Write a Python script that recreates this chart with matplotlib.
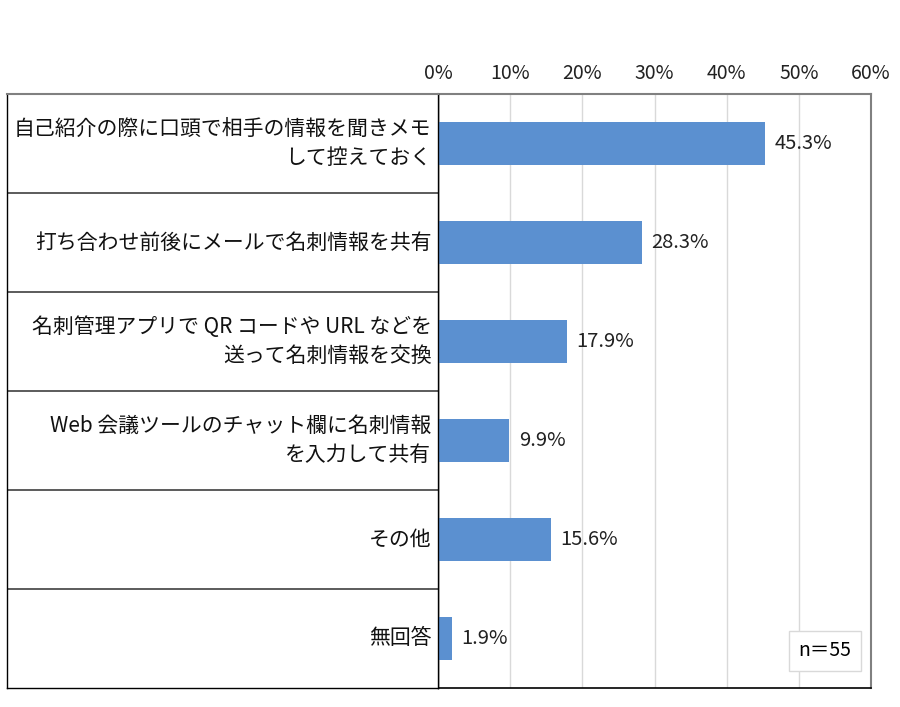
import matplotlib.pyplot as plt
import numpy as np

plt.rcParams['font.family'] = ['Noto Sans CJK JP', 'DejaVu Sans']

labels = [
    "自己紹介の際に口頭で相手の情報を聞きメモ\nして控えておく",
    "打ち合わせ前後にメールで名刺情報を共有",
    "名刺管理アプリで QR コードや URL などを\n送って名刺情報を交換",
    "Web 会議ツールのチャット欄に名刺情報\nを入力して共有",
    "その他",
    "無回答",
]
values = [45.3, 28.3, 17.9, 9.9, 15.6, 1.9]
ticks = [0, 10, 20, 30, 40, 50, 60]
bar_color = "#5B90D0"

W, H = 900, 707
fig = plt.figure(figsize=(W / 100, H / 100), dpi=100)

top, bottom = 94, 688
x0, x1 = 438, 871
left_box = 7

ax = fig.add_axes([x0 / W, 1 - bottom / H, (x1 - x0) / W, (bottom - top) / H])
n = len(values)
y = np.arange(n)
ax.barh(y, values, height=0.43, color=bar_color, zorder=3)
ax.set_ylim(n - 0.5, -0.5)
ax.set_xlim(0, 60)
ax.set_xticks(ticks)
ax.set_xticklabels([f"{t}%" for t in ticks], fontsize=14, color="#222222")
ax.xaxis.tick_top()
ax.tick_params(axis="x", length=0, pad=7)
ax.set_yticks([])
ax.grid(axis="x", color="#d9d9d9", linewidth=1, zorder=0)
for s in ["top", "right"]:
    ax.spines[s].set_color("#808080")
    ax.spines[s].set_linewidth(1.5)
ax.spines["left"].set_color("black")
ax.spines["left"].set_linewidth(1)
ax.spines["bottom"].set_color("black")
ax.spines["bottom"].set_linewidth(1.2)

for yi, v in zip(y, values):
    ax.text(v + 1.3, yi, f"{v}%", va="center", ha="left", fontsize=14.5, color="#222222")

ax.text(0.955, 0.045, "n＝55", transform=ax.transAxes, ha="right", va="bottom", fontsize=14,
        bbox=dict(boxstyle="square,pad=0.5", facecolor="white", edgecolor="#d9d9d9"), zorder=5)

# label table on the left
lax = fig.add_axes([left_box / W, 1 - bottom / H, (x0 - left_box) / W, (bottom - top) / H])
lax.set_xlim(0, 1)
lax.set_ylim(n - 0.5, -0.5)
lax.set_xticks([])
lax.set_yticks([])
for s in lax.spines.values():
    s.set_color("black")
    s.set_linewidth(1)
lax.spines["top"].set_color("#808080")
lax.spines["top"].set_linewidth(1.5)
for b in np.arange(0.5, n - 0.5, 1):
    lax.axhline(b, color="#404040", linewidth=1.2)
for yi, lab in zip(y, labels):
    lax.text(0.985, yi, lab, ha="right", va="center", fontsize=15.0, linespacing=1.45, color="#111111")

fig.savefig("out.png", dpi=100)
